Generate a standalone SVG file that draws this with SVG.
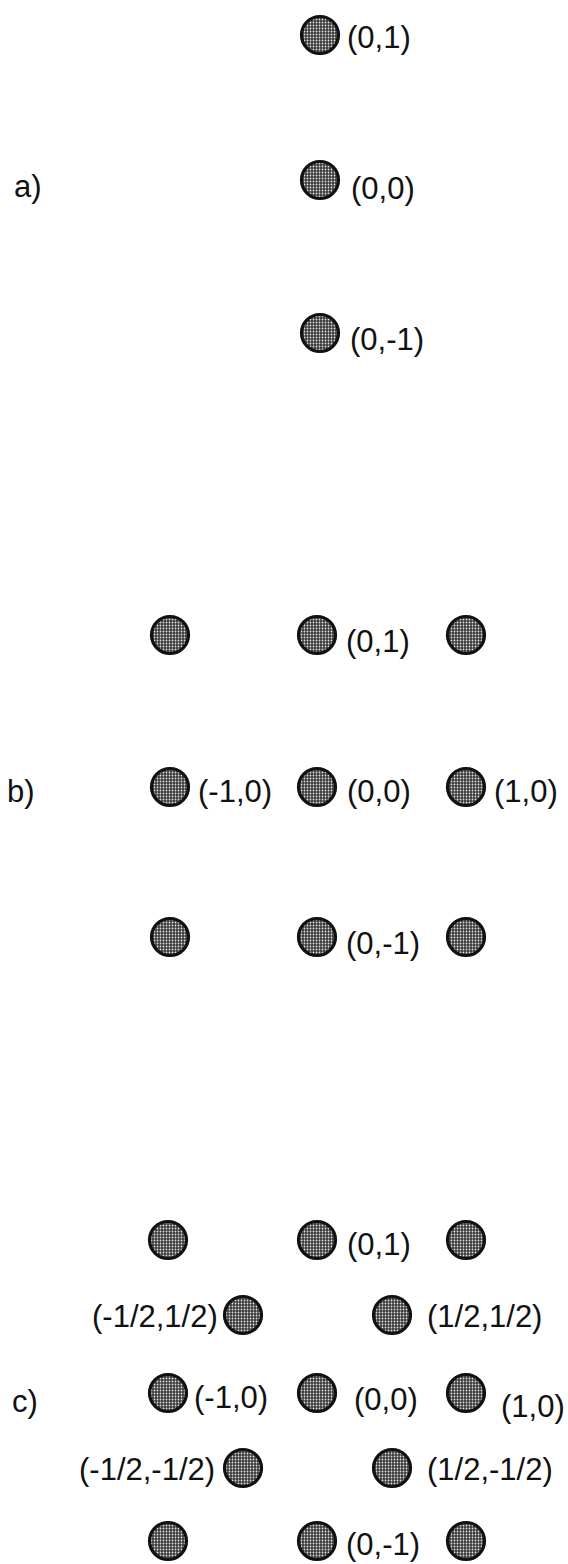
<svg xmlns="http://www.w3.org/2000/svg" width="568" height="1564" viewBox="0 0 568 1564">
<defs>
<pattern id="dots" patternUnits="userSpaceOnUse" width="3" height="3">
<rect width="3" height="3" fill="#3a3a3a"/>
<circle cx="1.5" cy="1.5" r="0.9" fill="#e0e0e0"/>
</pattern>
</defs>
<style>
.n{fill:url(#dots);stroke:#111;stroke-width:3.2}
text{font-family:"Liberation Sans",Arial,sans-serif;font-size:31px;fill:#111}
</style>
<rect width="568" height="1564" fill="#fff"/>
<g id="labels">
<text x="14" y="197">a)</text>
<text x="7" y="802">b)</text>
<text x="12" y="1412">c)</text>
</g>
<g id="a-0-1"><circle class="n" cx="320" cy="35" r="18.5"/><text x="347" y="48">(0,1)</text></g>
<g id="a-0-0"><circle class="n" cx="320" cy="180" r="18.5"/><text x="351" y="199">(0,0)</text></g>
<g id="a-0-m1"><circle class="n" cx="320" cy="333" r="18.5"/><text x="350" y="350">(0,-1)</text></g>

<g id="b-m1-1"><circle class="n" cx="170" cy="635" r="18.5"/></g>
<g id="b-0-1"><circle class="n" cx="317" cy="635" r="18.5"/><text x="346" y="652">(0,1)</text></g>
<g id="b-1-1"><circle class="n" cx="466" cy="635" r="18.5"/></g>
<g id="b-m1-0"><circle class="n" cx="170" cy="787" r="18.5"/><text x="198" y="802">(-1,0)</text></g>
<g id="b-0-0"><circle class="n" cx="317" cy="787" r="18.5"/><text x="347" y="802">(0,0)</text></g>
<g id="b-1-0"><circle class="n" cx="466" cy="787" r="18.5"/><text x="494" y="802">(1,0)</text></g>
<g id="b-m1-m1"><circle class="n" cx="170" cy="937" r="18.5"/></g>
<g id="b-0-m1"><circle class="n" cx="317" cy="937" r="18.5"/><text x="346" y="954">(0,-1)</text></g>
<g id="b-1-m1"><circle class="n" cx="466" cy="937" r="18.5"/></g>

<g id="c-m1-1"><circle class="n" cx="168" cy="1240" r="18.5"/></g>
<g id="c-0-1"><circle class="n" cx="317" cy="1240" r="18.5"/><text x="347" y="1255">(0,1)</text></g>
<g id="c-1-1"><circle class="n" cx="466" cy="1240" r="18.5"/></g>
<g id="c-mh-h"><circle class="n" cx="243" cy="1315" r="18.5"/><text x="92" y="1327">(-1/2,1/2)</text></g>
<g id="c-h-h"><circle class="n" cx="392" cy="1315" r="18.5"/><text x="427" y="1327">(1/2,1/2)</text></g>
<g id="c-m1-0"><circle class="n" cx="168" cy="1393" r="18.5"/><text x="194" y="1408">(-1,0)</text></g>
<g id="c-0-0"><circle class="n" cx="317" cy="1393" r="18.5"/><text x="354" y="1410">(0,0)</text></g>
<g id="c-1-0"><circle class="n" cx="466" cy="1393" r="18.5"/><text x="501" y="1417">(1,0)</text></g>
<g id="c-mh-mh"><circle class="n" cx="243" cy="1468" r="18.5"/><text x="79" y="1480">(-1/2,-1/2)</text></g>
<g id="c-h-mh"><circle class="n" cx="392" cy="1468" r="18.5"/><text x="427" y="1480">(1/2,-1/2)</text></g>
<g id="c-m1-m1"><circle class="n" cx="168" cy="1541" r="18.5"/></g>
<g id="c-0-m1"><circle class="n" cx="317" cy="1541" r="18.5"/><text x="346" y="1555">(0,-1)</text></g>
<g id="c-1-m1"><circle class="n" cx="466" cy="1541" r="18.5"/></g>
</svg>
